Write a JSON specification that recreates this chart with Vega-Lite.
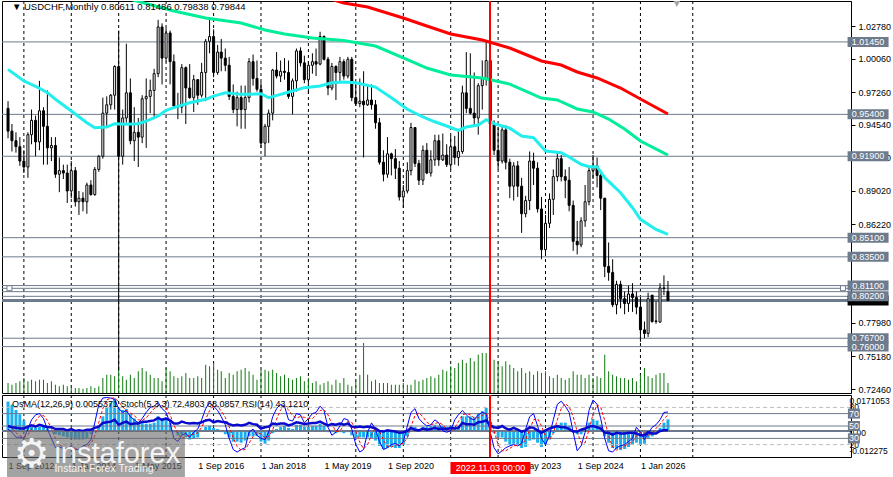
{
  "$schema": "https://vega.github.io/schema/vega-lite/v6.json",
  "padding": 0,
  "spacing": 2,
  "bounds": "flush",
  "background": "#ffffff",
  "config": {
    "font": "Liberation Sans",
    "view": {"stroke": "#000000", "strokeWidth": 1},
    "axis": {"grid": false}
  },
  "datasets": {
    "bars": [
      {"d":"2012-09-01","o":0.959,"h":0.965,"l":0.934,"c":0.94,"v":100,"os":0.014,"k":45,"s":50,"r":50},
      {"d":"2012-10-01","o":0.94,"h":0.946,"l":0.923,"c":0.932,"v":83,"os":0.0125,"k":40,"s":47,"r":48},
      {"d":"2012-11-01","o":0.932,"h":0.939,"l":0.922,"c":0.927,"v":100,"os":0.01,"k":32,"s":39,"r":47},
      {"d":"2012-12-01","o":0.927,"h":0.935,"l":0.911,"c":0.915,"v":117,"os":0.008,"k":32,"s":35,"r":46},
      {"d":"2013-01-01","o":0.915,"h":0.924,"l":0.905,"c":0.91,"v":150,"os":0.005,"k":30,"s":31,"r":46},
      {"d":"2013-02-01","o":0.91,"h":0.939,"l":0.901,"c":0.937,"v":117,"os":0.0025,"k":45,"s":36,"r":49},
      {"d":"2013-03-01","o":0.937,"h":0.958,"l":0.929,"c":0.949,"v":133,"os":0.002,"k":60,"s":45,"r":51},
      {"d":"2013-04-01","o":0.949,"h":0.953,"l":0.919,"c":0.931,"v":117,"os":0.0015,"k":68,"s":58,"r":49},
      {"d":"2013-05-01","o":0.931,"h":0.982,"l":0.924,"c":0.957,"v":133,"os":0.002,"k":70,"s":66,"r":52},
      {"d":"2013-06-01","o":0.957,"h":0.96,"l":0.912,"c":0.944,"v":133,"os":0.002,"k":62,"s":67,"r":50},
      {"d":"2013-07-01","o":0.944,"h":0.974,"l":0.912,"c":0.926,"v":100,"os":0.001,"k":45,"s":59,"r":48},
      {"d":"2013-08-01","o":0.926,"h":0.935,"l":0.915,"c":0.928,"v":117,"os":0.0005,"k":30,"s":46,"r":48},
      {"d":"2013-09-01","o":0.928,"h":0.935,"l":0.901,"c":0.904,"v":83,"os":-0.0015,"k":15,"s":30,"r":45},
      {"d":"2013-10-01","o":0.904,"h":0.918,"l":0.889,"c":0.907,"v":67,"os":-0.002,"k":16,"s":20,"r":45},
      {"d":"2013-11-01","o":0.907,"h":0.912,"l":0.9,"c":0.905,"v":83,"os":-0.0025,"k":14,"s":15,"r":45},
      {"d":"2013-12-01","o":0.905,"h":0.912,"l":0.88,"c":0.89,"v":67,"os":-0.003,"k":12,"s":14,"r":43},
      {"d":"2014-01-01","o":0.89,"h":0.915,"l":0.884,"c":0.907,"v":67,"os":-0.003,"k":18,"s":15,"r":45},
      {"d":"2014-02-01","o":0.907,"h":0.91,"l":0.877,"c":0.881,"v":50,"os":-0.004,"k":12,"s":14,"r":42},
      {"d":"2014-03-01","o":0.881,"h":0.89,"l":0.87,"c":0.884,"v":50,"os":-0.004,"k":12,"s":14,"r":43},
      {"d":"2014-04-01","o":0.884,"h":0.889,"l":0.873,"c":0.881,"v":43,"os":-0.004,"k":18,"s":14,"r":42},
      {"d":"2014-05-01","o":0.881,"h":0.897,"l":0.871,"c":0.895,"v":50,"os":-0.0035,"k":20,"s":17,"r":44},
      {"d":"2014-06-01","o":0.895,"h":0.899,"l":0.886,"c":0.887,"v":67,"os":-0.0015,"k":28,"s":22,"r":44},
      {"d":"2014-07-01","o":0.887,"h":0.91,"l":0.886,"c":0.908,"v":50,"os":0.0005,"k":55,"s":34,"r":47},
      {"d":"2014-08-01","o":0.908,"h":0.92,"l":0.906,"c":0.919,"v":67,"os":0.0025,"k":85,"s":56,"r":49},
      {"d":"2014-09-01","o":0.919,"h":0.968,"l":0.917,"c":0.955,"v":150,"os":0.007,"k":95,"s":78,"r":55},
      {"d":"2014-10-01","o":0.955,"h":0.969,"l":0.944,"c":0.962,"v":183,"os":0.011,"k":96,"s":92,"r":56},
      {"d":"2014-11-01","o":0.962,"h":0.971,"l":0.958,"c":0.97,"v":183,"os":0.0135,"k":95,"s":95,"r":57},
      {"d":"2014-12-01","o":0.97,"h":0.995,"l":0.958,"c":0.994,"v":167,"os":0.0155,"k":93,"s":95,"r":60},
      {"d":"2015-01-01","o":0.994,"h":1.024,"l":0.74,"c":0.919,"v":233,"os":0.011,"k":78,"s":89,"r":52},
      {"d":"2015-02-01","o":0.919,"h":0.958,"l":0.912,"c":0.951,"v":167,"os":0.01,"k":72,"s":81,"r":55},
      {"d":"2015-03-01","o":0.951,"h":1.013,"l":0.947,"c":0.972,"v":133,"os":0.0105,"k":75,"s":75,"r":57},
      {"d":"2015-04-01","o":0.972,"h":0.984,"l":0.929,"c":0.932,"v":183,"os":0.008,"k":65,"s":71,"r":53},
      {"d":"2015-05-01","o":0.932,"h":0.96,"l":0.915,"c":0.939,"v":150,"os":0.006,"k":60,"s":67,"r":54},
      {"d":"2015-06-01","o":0.939,"h":0.951,"l":0.91,"c":0.935,"v":217,"os":0.0045,"k":55,"s":60,"r":54},
      {"d":"2015-07-01","o":0.935,"h":0.97,"l":0.93,"c":0.967,"v":250,"os":0.004,"k":62,"s":59,"r":57},
      {"d":"2015-08-01","o":0.967,"h":0.984,"l":0.926,"c":0.969,"v":217,"os":0.0035,"k":72,"s":63,"r":57},
      {"d":"2015-09-01","o":0.969,"h":0.983,"l":0.955,"c":0.974,"v":183,"os":0.0035,"k":80,"s":71,"r":58},
      {"d":"2015-10-01","o":0.974,"h":0.992,"l":0.95,"c":0.988,"v":150,"os":0.004,"k":82,"s":78,"r":59},
      {"d":"2015-11-01","o":0.988,"h":1.033,"l":0.985,"c":1.027,"v":150,"os":0.007,"k":88,"s":83,"r":63},
      {"d":"2015-12-01","o":1.027,"h":1.03,"l":0.979,"c":1.001,"v":117,"os":0.006,"k":78,"s":83,"r":60},
      {"d":"2016-01-01","o":1.001,"h":1.026,"l":0.998,"c":1.022,"v":250,"os":0.0065,"k":72,"s":79,"r":62},
      {"d":"2016-02-01","o":1.022,"h":1.024,"l":0.979,"c":0.998,"v":217,"os":0.004,"k":55,"s":68,"r":59},
      {"d":"2016-03-01","o":0.998,"h":1.004,"l":0.959,"c":0.961,"v":167,"os":-0.0005,"k":30,"s":52,"r":54},
      {"d":"2016-04-01","o":0.961,"h":0.972,"l":0.95,"c":0.96,"v":150,"os":-0.002,"k":25,"s":37,"r":54},
      {"d":"2016-05-01","o":0.96,"h":0.996,"l":0.955,"c":0.993,"v":167,"os":-0.002,"k":35,"s":30,"r":57},
      {"d":"2016-06-01","o":0.993,"h":0.994,"l":0.946,"c":0.976,"v":200,"os":-0.003,"k":38,"s":33,"r":55},
      {"d":"2016-07-01","o":0.976,"h":0.996,"l":0.967,"c":0.968,"v":150,"os":-0.004,"k":32,"s":35,"r":54},
      {"d":"2016-08-01","o":0.968,"h":0.987,"l":0.956,"c":0.983,"v":150,"os":-0.0035,"k":40,"s":37,"r":55},
      {"d":"2016-09-01","o":0.983,"h":0.983,"l":0.962,"c":0.97,"v":167,"os":-0.003,"k":45,"s":39,"r":54},
      {"d":"2016-10-01","o":0.97,"h":0.997,"l":0.968,"c":0.989,"v":150,"os":0.0005,"k":60,"s":48,"r":56},
      {"d":"2016-11-01","o":0.989,"h":1.017,"l":0.965,"c":1.015,"v":283,"os":0.002,"k":78,"s":61,"r":59},
      {"d":"2016-12-01","o":1.015,"h":1.034,"l":1.005,"c":1.019,"v":267,"os":0.0025,"k":88,"s":75,"r":60},
      {"d":"2017-01-01","o":1.019,"h":1.025,"l":0.985,"c":0.989,"v":300,"os":0.0015,"k":82,"s":83,"r":56},
      {"d":"2017-02-01","o":0.989,"h":1.012,"l":0.987,"c":1.006,"v":233,"os":0.001,"k":75,"s":82,"r":58},
      {"d":"2017-03-01","o":1.006,"h":1.017,"l":0.99,"c":1.001,"v":217,"os":-0.0005,"k":65,"s":74,"r":57},
      {"d":"2017-04-01","o":1.001,"h":1.009,"l":0.99,"c":0.995,"v":150,"os":-0.0015,"k":52,"s":64,"r":56},
      {"d":"2017-05-01","o":0.995,"h":1.002,"l":0.966,"c":0.969,"v":200,"os":-0.003,"k":30,"s":49,"r":53},
      {"d":"2017-06-01","o":0.969,"h":0.979,"l":0.955,"c":0.958,"v":183,"os":-0.005,"k":12,"s":31,"r":51},
      {"d":"2017-07-01","o":0.958,"h":0.973,"l":0.944,"c":0.968,"v":217,"os":-0.005,"k":8,"s":17,"r":52},
      {"d":"2017-08-01","o":0.968,"h":0.978,"l":0.942,"c":0.958,"v":233,"os":-0.0055,"k":12,"s":11,"r":51},
      {"d":"2017-09-01","o":0.958,"h":0.978,"l":0.942,"c":0.968,"v":250,"os":-0.0045,"k":15,"s":12,"r":52},
      {"d":"2017-10-01","o":0.968,"h":1.001,"l":0.964,"c":0.998,"v":217,"os":-0.0025,"k":40,"s":22,"r":55},
      {"d":"2017-11-01","o":0.998,"h":1.004,"l":0.978,"c":0.984,"v":183,"os":-0.0025,"k":45,"s":33,"r":53},
      {"d":"2017-12-01","o":0.984,"h":0.999,"l":0.973,"c":0.975,"v":133,"os":-0.0025,"k":35,"s":40,"r":52},
      {"d":"2018-01-01","o":0.975,"h":0.981,"l":0.926,"c":0.93,"v":233,"os":-0.005,"k":30,"s":37,"r":46},
      {"d":"2018-02-01","o":0.93,"h":0.946,"l":0.919,"c":0.944,"v":233,"os":-0.006,"k":28,"s":31,"r":48},
      {"d":"2018-03-01","o":0.944,"h":0.958,"l":0.93,"c":0.955,"v":217,"os":-0.0045,"k":40,"s":33,"r":49},
      {"d":"2018-04-01","o":0.955,"h":0.992,"l":0.949,"c":0.991,"v":233,"os":-0.001,"k":65,"s":44,"r":54},
      {"d":"2018-05-01","o":0.991,"h":1.006,"l":0.984,"c":0.986,"v":200,"os":0.001,"k":78,"s":61,"r":53},
      {"d":"2018-06-01","o":0.986,"h":0.999,"l":0.981,"c":0.99,"v":167,"os":0.002,"k":85,"s":76,"r":54},
      {"d":"2018-07-01","o":0.99,"h":1.001,"l":0.983,"c":0.989,"v":183,"os":0.0025,"k":82,"s":82,"r":54},
      {"d":"2018-08-01","o":0.989,"h":0.999,"l":0.967,"c":0.969,"v":150,"os":0.0015,"k":60,"s":76,"r":51},
      {"d":"2018-09-01","o":0.969,"h":0.984,"l":0.954,"c":0.982,"v":133,"os":0.001,"k":58,"s":67,"r":53},
      {"d":"2018-10-01","o":0.982,"h":1.009,"l":0.973,"c":1.007,"v":150,"os":0.003,"k":70,"s":63,"r":56},
      {"d":"2018-11-01","o":1.007,"h":1.01,"l":0.994,"c":0.997,"v":167,"os":0.003,"k":68,"s":65,"r":55},
      {"d":"2018-12-01","o":0.997,"h":1.003,"l":0.98,"c":0.983,"v":117,"os":0.002,"k":55,"s":64,"r":53},
      {"d":"2019-01-01","o":0.983,"h":0.998,"l":0.971,"c":0.995,"v":150,"os":0.002,"k":62,"s":62,"r":54},
      {"d":"2019-02-01","o":0.995,"h":1.005,"l":0.988,"c":0.998,"v":100,"os":0.0025,"k":70,"s":62,"r":55},
      {"d":"2019-03-01","o":0.998,"h":1.009,"l":0.986,"c":0.996,"v":117,"os":0.0025,"k":72,"s":68,"r":55},
      {"d":"2019-04-01","o":0.996,"h":1.023,"l":0.995,"c":1.019,"v":83,"os":0.0035,"k":82,"s":75,"r":57},
      {"d":"2019-05-01","o":1.019,"h":1.02,"l":0.999,"c":1.0,"v":100,"os":0.0025,"k":75,"s":76,"r":54},
      {"d":"2019-06-01","o":1.0,"h":1.002,"l":0.97,"c":0.976,"v":117,"os":-0.0005,"k":48,"s":68,"r":51},
      {"d":"2019-07-01","o":0.976,"h":0.997,"l":0.974,"c":0.994,"v":83,"os":-0.0005,"k":35,"s":53,"r":53},
      {"d":"2019-08-01","o":0.994,"h":0.995,"l":0.966,"c":0.989,"v":133,"os":-0.001,"k":40,"s":41,"r":52},
      {"d":"2019-09-01","o":0.989,"h":1.002,"l":0.982,"c":0.998,"v":100,"os":-0.0005,"k":50,"s":42,"r":54},
      {"d":"2019-10-01","o":0.998,"h":1.0,"l":0.983,"c":0.986,"v":150,"os":-0.001,"k":62,"s":51,"r":52},
      {"d":"2019-11-01","o":0.986,"h":1.002,"l":0.984,"c":1.0,"v":83,"os":-0.0005,"k":60,"s":57,"r":54},
      {"d":"2019-12-01","o":1.0,"h":1.002,"l":0.965,"c":0.968,"v":67,"os":-0.002,"k":45,"s":56,"r":49},
      {"d":"2020-01-01","o":0.968,"h":0.98,"l":0.961,"c":0.963,"v":133,"os":-0.003,"k":20,"s":42,"r":48},
      {"d":"2020-02-01","o":0.963,"h":0.984,"l":0.96,"c":0.965,"v":183,"os":-0.003,"k":8,"s":24,"r":49},
      {"d":"2020-03-01","o":0.965,"h":0.99,"l":0.918,"c":0.962,"v":500,"os":-0.003,"k":12,"s":13,"r":48},
      {"d":"2020-04-01","o":0.962,"h":0.979,"l":0.961,"c":0.966,"v":183,"os":-0.003,"k":40,"s":20,"r":49},
      {"d":"2020-05-01","o":0.966,"h":0.979,"l":0.958,"c":0.962,"v":117,"os":-0.0035,"k":55,"s":36,"r":48},
      {"d":"2020-06-01","o":0.962,"h":0.966,"l":0.942,"c":0.947,"v":133,"os":-0.0045,"k":45,"s":47,"r":46},
      {"d":"2020-07-01","o":0.947,"h":0.951,"l":0.912,"c":0.914,"v":100,"os":-0.007,"k":25,"s":42,"r":42},
      {"d":"2020-08-01","o":0.914,"h":0.924,"l":0.898,"c":0.904,"v":100,"os":-0.0085,"k":12,"s":27,"r":41},
      {"d":"2020-09-01","o":0.904,"h":0.935,"l":0.901,"c":0.921,"v":100,"os":-0.008,"k":15,"s":17,"r":43},
      {"d":"2020-10-01","o":0.921,"h":0.922,"l":0.903,"c":0.917,"v":83,"os":-0.0075,"k":20,"s":16,"r":42},
      {"d":"2020-11-01","o":0.917,"h":0.925,"l":0.9,"c":0.909,"v":83,"os":-0.008,"k":22,"s":19,"r":41},
      {"d":"2020-12-01","o":0.909,"h":0.915,"l":0.882,"c":0.885,"v":83,"os":-0.008,"k":18,"s":20,"r":39},
      {"d":"2021-01-01","o":0.885,"h":0.895,"l":0.876,"c":0.89,"v":100,"os":-0.0065,"k":25,"s":22,"r":40},
      {"d":"2021-02-01","o":0.89,"h":0.914,"l":0.888,"c":0.907,"v":83,"os":-0.0025,"k":50,"s":31,"r":42},
      {"d":"2021-03-01","o":0.907,"h":0.947,"l":0.903,"c":0.943,"v":83,"os":0.002,"k":72,"s":49,"r":47},
      {"d":"2021-04-01","o":0.943,"h":0.943,"l":0.91,"c":0.913,"v":133,"os":0.002,"k":78,"s":67,"r":44},
      {"d":"2021-05-01","o":0.913,"h":0.916,"l":0.895,"c":0.899,"v":117,"os":0.001,"k":62,"s":71,"r":43},
      {"d":"2021-06-01","o":0.899,"h":0.928,"l":0.895,"c":0.924,"v":133,"os":0.002,"k":55,"s":65,"r":46},
      {"d":"2021-07-01","o":0.924,"h":0.93,"l":0.904,"c":0.905,"v":150,"os":0.002,"k":50,"s":56,"r":44},
      {"d":"2021-08-01","o":0.905,"h":0.924,"l":0.902,"c":0.916,"v":167,"os":0.0025,"k":52,"s":52,"r":45},
      {"d":"2021-09-01","o":0.916,"h":0.937,"l":0.911,"c":0.932,"v":150,"os":0.003,"k":60,"s":54,"r":47},
      {"d":"2021-10-01","o":0.932,"h":0.937,"l":0.911,"c":0.916,"v":183,"os":0.0025,"k":55,"s":56,"r":45},
      {"d":"2021-11-01","o":0.916,"h":0.938,"l":0.915,"c":0.92,"v":233,"os":0.0025,"k":42,"s":52,"r":46},
      {"d":"2021-12-01","o":0.92,"h":0.929,"l":0.91,"c":0.912,"v":217,"os":0.002,"k":40,"s":46,"r":45},
      {"d":"2022-01-01","o":0.912,"h":0.936,"l":0.908,"c":0.927,"v":267,"os":0.0025,"k":42,"s":41,"r":47},
      {"d":"2022-02-01","o":0.927,"h":0.936,"l":0.912,"c":0.918,"v":250,"os":0.002,"k":60,"s":47,"r":46},
      {"d":"2022-03-01","o":0.918,"h":0.94,"l":0.911,"c":0.923,"v":300,"os":0.0025,"k":68,"s":57,"r":47},
      {"d":"2022-04-01","o":0.923,"h":0.978,"l":0.921,"c":0.972,"v":333,"os":0.007,"k":75,"s":68,"r":55},
      {"d":"2022-05-01","o":0.972,"h":1.006,"l":0.955,"c":0.959,"v":300,"os":0.007,"k":68,"s":70,"r":53},
      {"d":"2022-06-01","o":0.959,"h":1.005,"l":0.954,"c":0.955,"v":350,"os":0.007,"k":62,"s":68,"r":53},
      {"d":"2022-07-01","o":0.955,"h":0.989,"l":0.945,"c":0.951,"v":317,"os":0.0065,"k":60,"s":63,"r":52},
      {"d":"2022-08-01","o":0.951,"h":0.98,"l":0.937,"c":0.978,"v":383,"os":0.0085,"k":68,"s":63,"r":56},
      {"d":"2022-09-01","o":0.978,"h":0.999,"l":0.958,"c":0.984,"v":400,"os":0.0095,"k":72,"s":67,"r":57},
      {"d":"2022-10-01","o":0.984,"h":1.0148,"l":0.978,"c":0.999,"v":400,"os":0.011,"k":70,"s":70,"r":59},
      {"d":"2022-11-01","o":0.999,"h":1.003,"l":0.936,"c":0.946,"v":400,"os":0.004,"k":40,"s":61,"r":51},
      {"d":"2022-12-01","o":0.946,"h":0.949,"l":0.92,"c":0.924,"v":333,"os":-0.001,"k":15,"s":42,"r":48},
      {"d":"2023-01-01","o":0.924,"h":0.943,"l":0.908,"c":0.915,"v":317,"os":-0.003,"k":5,"s":20,"r":47},
      {"d":"2023-02-01","o":0.915,"h":0.944,"l":0.913,"c":0.941,"v":267,"os":-0.003,"k":10,"s":10,"r":50},
      {"d":"2023-03-01","o":0.941,"h":0.945,"l":0.908,"c":0.914,"v":317,"os":-0.005,"k":15,"s":10,"r":46},
      {"d":"2023-04-01","o":0.914,"h":0.917,"l":0.884,"c":0.894,"v":283,"os":-0.0065,"k":18,"s":14,"r":44},
      {"d":"2023-05-01","o":0.894,"h":0.914,"l":0.882,"c":0.911,"v":250,"os":-0.006,"k":20,"s":18,"r":47},
      {"d":"2023-06-01","o":0.911,"h":0.915,"l":0.885,"c":0.894,"v":217,"os":-0.0065,"k":18,"s":19,"r":44},
      {"d":"2023-07-01","o":0.894,"h":0.901,"l":0.855,"c":0.871,"v":250,"os":-0.008,"k":22,"s":20,"r":41},
      {"d":"2023-08-01","o":0.871,"h":0.886,"l":0.868,"c":0.882,"v":200,"os":-0.0075,"k":45,"s":28,"r":43},
      {"d":"2023-09-01","o":0.882,"h":0.923,"l":0.874,"c":0.915,"v":217,"os":-0.0045,"k":65,"s":44,"r":48},
      {"d":"2023-10-01","o":0.915,"h":0.922,"l":0.895,"c":0.909,"v":183,"os":-0.004,"k":70,"s":60,"r":47},
      {"d":"2023-11-01","o":0.909,"h":0.914,"l":0.872,"c":0.875,"v":217,"os":-0.0055,"k":50,"s":62,"r":43},
      {"d":"2023-12-01","o":0.875,"h":0.885,"l":0.833,"c":0.841,"v":200,"os":-0.0075,"k":30,"s":50,"r":39},
      {"d":"2024-01-01","o":0.841,"h":0.87,"l":0.837,"c":0.863,"v":217,"os":-0.0065,"k":20,"s":33,"r":43},
      {"d":"2024-02-01","o":0.863,"h":0.888,"l":0.859,"c":0.883,"v":167,"os":-0.004,"k":35,"s":28,"r":46},
      {"d":"2024-03-01","o":0.883,"h":0.908,"l":0.87,"c":0.902,"v":150,"os":-0.001,"k":60,"s":38,"r":48},
      {"d":"2024-04-01","o":0.902,"h":0.923,"l":0.898,"c":0.917,"v":183,"os":0.0025,"k":85,"s":60,"r":50},
      {"d":"2024-05-01","o":0.917,"h":0.92,"l":0.898,"c":0.902,"v":150,"os":0.004,"k":90,"s":78,"r":48},
      {"d":"2024-06-01","o":0.902,"h":0.908,"l":0.884,"c":0.899,"v":133,"os":0.004,"k":82,"s":86,"r":48},
      {"d":"2024-07-01","o":0.899,"h":0.91,"l":0.873,"c":0.878,"v":150,"os":0.0025,"k":72,"s":81,"r":45},
      {"d":"2024-08-01","o":0.878,"h":0.882,"l":0.84,"c":0.848,"v":217,"os":0.0005,"k":40,"s":65,"r":41},
      {"d":"2024-09-01","o":0.848,"h":0.865,"l":0.837,"c":0.845,"v":183,"os":-0.0015,"k":10,"s":41,"r":41},
      {"d":"2024-10-01","o":0.845,"h":0.868,"l":0.843,"c":0.865,"v":183,"os":-0.0015,"k":18,"s":23,"r":44},
      {"d":"2024-11-01","o":0.865,"h":0.895,"l":0.86,"c":0.881,"v":150,"os":0.001,"k":40,"s":23,"r":46},
      {"d":"2024-12-01","o":0.881,"h":0.91,"l":0.878,"c":0.907,"v":183,"os":0.004,"k":75,"s":44,"r":49},
      {"d":"2025-01-01","o":0.907,"h":0.92,"l":0.9,"c":0.911,"v":150,"os":0.0055,"k":92,"s":69,"r":50},
      {"d":"2025-02-01","o":0.911,"h":0.918,"l":0.893,"c":0.903,"v":167,"os":0.005,"k":85,"s":84,"r":48},
      {"d":"2025-03-01","o":0.903,"h":0.906,"l":0.874,"c":0.884,"v":150,"os":0.003,"k":62,"s":80,"r":46},
      {"d":"2025-04-01","o":0.884,"h":0.884,"l":0.818,"c":0.827,"v":383,"os":-0.0025,"k":30,"s":59,"r":39},
      {"d":"2025-05-01","o":0.827,"h":0.847,"l":0.815,"c":0.822,"v":217,"os":-0.0055,"k":10,"s":34,"r":39},
      {"d":"2025-06-01","o":0.822,"h":0.833,"l":0.793,"c":0.795,"v":183,"os":-0.008,"k":8,"s":16,"r":36},
      {"d":"2025-07-01","o":0.795,"h":0.815,"l":0.787,"c":0.812,"v":167,"os":-0.0085,"k":15,"s":11,"r":39},
      {"d":"2025-08-01","o":0.812,"h":0.815,"l":0.792,"c":0.8,"v":150,"os":-0.009,"k":18,"s":14,"r":38},
      {"d":"2025-09-01","o":0.8,"h":0.806,"l":0.787,"c":0.796,"v":150,"os":-0.0085,"k":20,"s":18,"r":38},
      {"d":"2025-10-01","o":0.796,"h":0.811,"l":0.789,"c":0.804,"v":133,"os":-0.0075,"k":25,"s":21,"r":39},
      {"d":"2025-11-01","o":0.804,"h":0.813,"l":0.789,"c":0.801,"v":150,"os":-0.0065,"k":30,"s":25,"r":39},
      {"d":"2025-12-01","o":0.801,"h":0.806,"l":0.787,"c":0.793,"v":117,"os":-0.0055,"k":48,"s":34,"r":38},
      {"d":"2026-01-01","o":0.793,"h":0.801,"l":0.764,"c":0.774,"v":183,"os":-0.0065,"k":40,"s":39,"r":35},
      {"d":"2026-02-01","o":0.774,"h":0.781,"l":0.767,"c":0.771,"v":250,"os":-0.006,"k":28,"s":39,"r":35},
      {"d":"2026-03-01","o":0.771,"h":0.805,"l":0.768,"c":0.8,"v":167,"os":-0.0035,"k":38,"s":35,"r":40},
      {"d":"2026-04-01","o":0.803,"h":0.803,"l":0.78,"c":0.781,"v":150,"os":-0.0025,"k":48,"s":38,"r":38},
      {"d":"2026-05-01","o":0.781,"h":0.798,"l":0.779,"c":0.7815,"v":183,"os":-0.001,"k":52,"s":46,"r":38},
      {"d":"2026-06-01","o":0.7805,"h":0.813,"l":0.78,"c":0.809,"v":200,"os":0.0015,"k":60,"s":53,"r":42},
      {"d":"2026-07-01","o":0.809,"h":0.8195,"l":0.803,"c":0.8085,"v":200,"os":0.004,"k":72,"s":61,"r":43},
      {"d":"2026-08-01","o":0.80611,"h":0.81486,"l":0.79838,"c":0.79844,"v":100,"os":0.005537,"k":72.48,"s":68.09,"r":43.12}
    ],
    "ma": [
      {"d":"2012-09-01","s":"c","v":0.9916},{"d":"2013-01-01","s":"c","v":0.9819},{"d":"2013-05-01","s":"c","v":0.9758},
      {"d":"2013-07-01","s":"c","v":0.9721},{"d":"2013-09-01","s":"c","v":0.9666},{"d":"2014-01-01","s":"c","v":0.9568},
      {"d":"2014-05-01","s":"c","v":0.947},{"d":"2014-07-01","s":"c","v":0.9428},{"d":"2014-10-01","s":"c","v":0.9434},
      {"d":"2014-12-01","s":"c","v":0.9462},{"d":"2015-03-01","s":"c","v":0.9457},{"d":"2015-06-01","s":"c","v":0.9462},
      {"d":"2015-08-01","s":"c","v":0.9484},{"d":"2015-11-01","s":"c","v":0.9526},{"d":"2016-01-01","s":"c","v":0.9574},
      {"d":"2016-03-01","s":"c","v":0.9596},{"d":"2016-07-01","s":"c","v":0.9637},{"d":"2016-11-01","s":"c","v":0.9666},
      {"d":"2017-01-01","s":"c","v":0.9693},{"d":"2017-04-01","s":"c","v":0.9721},{"d":"2017-08-01","s":"c","v":0.9707},
      {"d":"2017-10-01","s":"c","v":0.9707},{"d":"2018-01-01","s":"c","v":0.9712},{"d":"2018-03-01","s":"c","v":0.9679},
      {"d":"2018-06-01","s":"c","v":0.9707},{"d":"2018-09-01","s":"c","v":0.9735},{"d":"2018-12-01","s":"c","v":0.9763},
      {"d":"2019-04-01","s":"c","v":0.9777},{"d":"2019-07-01","s":"c","v":0.9804},{"d":"2019-10-01","s":"c","v":0.981},
      {"d":"2020-01-01","s":"c","v":0.9804},{"d":"2020-06-01","s":"c","v":0.9768},{"d":"2020-10-01","s":"c","v":0.9679},
      {"d":"2021-02-01","s":"c","v":0.9582},{"d":"2021-06-01","s":"c","v":0.9518},{"d":"2021-09-01","s":"c","v":0.9478},
      {"d":"2021-12-01","s":"c","v":0.9443},{"d":"2022-03-01","s":"c","v":0.9407},{"d":"2022-05-01","s":"c","v":0.9434},
      {"d":"2022-08-01","s":"c","v":0.9451},{"d":"2022-10-01","s":"c","v":0.9495},{"d":"2022-12-01","s":"c","v":0.9462},
      {"d":"2023-03-01","s":"c","v":0.9434},{"d":"2023-04-01","s":"c","v":0.9425},{"d":"2023-07-01","s":"c","v":0.9359},
      {"d":"2023-10-01","s":"c","v":0.9345},{"d":"2024-01-01","s":"c","v":0.9234},{"d":"2024-05-01","s":"c","v":0.922},
      {"d":"2024-07-01","s":"c","v":0.9184},{"d":"2024-10-01","s":"c","v":0.9123},{"d":"2024-12-01","s":"c","v":0.9103},
      {"d":"2025-02-01","s":"c","v":0.9103},{"d":"2025-04-01","s":"c","v":0.9011},{"d":"2025-08-01","s":"c","v":0.8885},
      {"d":"2025-11-01","s":"c","v":0.876},{"d":"2026-01-01","s":"c","v":0.8663},{"d":"2026-05-01","s":"c","v":0.8579},
      {"d":"2026-08-01","s":"c","v":0.8538},
      {"d":"2015-03-01","s":"g","v":1.051},{"d":"2016-03-01","s":"g","v":1.0403},{"d":"2016-11-01","s":"g","v":1.0345},
      {"d":"2017-08-01","s":"g","v":1.0303},{"d":"2018-02-01","s":"g","v":1.0245},{"d":"2018-07-01","s":"g","v":1.0211},
      {"d":"2019-02-01","s":"g","v":1.0178},{"d":"2019-10-01","s":"g","v":1.0157},{"d":"2020-06-01","s":"g","v":1.0111},
      {"d":"2021-01-01","s":"g","v":1.0011},{"d":"2021-07-01","s":"g","v":0.9927},{"d":"2022-01-01","s":"g","v":0.9869},
      {"d":"2022-09-01","s":"g","v":0.9844},{"d":"2023-04-01","s":"g","v":0.9793},{"d":"2023-12-01","s":"g","v":0.9676},
      {"d":"2024-04-01","s":"g","v":0.966},{"d":"2024-09-01","s":"g","v":0.9585},{"d":"2025-01-01","s":"g","v":0.956},
      {"d":"2025-05-01","s":"g","v":0.9501},{"d":"2025-09-01","s":"g","v":0.9418},{"d":"2026-01-01","s":"g","v":0.9317},
      {"d":"2026-08-01","s":"g","v":0.92},
      {"d":"2019-05-01","s":"r","v":1.052},{"d":"2019-10-01","s":"r","v":1.047},{"d":"2020-04-01","s":"r","v":1.0437},
      {"d":"2021-01-01","s":"r","v":1.0345},{"d":"2021-07-01","s":"r","v":1.0278},{"d":"2022-01-01","s":"r","v":1.0211},
      {"d":"2022-09-01","s":"r","v":1.0161},{"d":"2023-04-01","s":"r","v":1.0094},{"d":"2023-12-01","s":"r","v":0.9986},
      {"d":"2024-05-01","s":"r","v":0.9952},{"d":"2024-09-01","s":"r","v":0.9894},{"d":"2025-02-01","s":"r","v":0.9844},
      {"d":"2025-08-01","s":"r","v":0.976},{"d":"2026-01-01","s":"r","v":0.9668},{"d":"2026-08-01","s":"r","v":0.9543}
    ],
    "jan": [
      {"d":"2013-01-01"},{"d":"2014-01-01"},{"d":"2015-01-01"},{"d":"2016-01-01"},{"d":"2017-01-01"},
      {"d":"2018-01-01"},{"d":"2019-01-01"},{"d":"2020-01-01"},{"d":"2021-01-01"},{"d":"2022-01-01"},
      {"d":"2023-01-01"},{"d":"2024-01-01"},{"d":"2025-01-01"},{"d":"2026-01-01"},{"d":"2027-02-08"}
    ],
    "lv": [
      {"p":1.0145},{"p":0.954},{"p":0.919},{"p":0.851},{"p":0.835},{"p":0.811},
      {"p":0.8087},{"p":0.8059},{"p":0.802},{"p":0.767},{"p":0.76}
    ],
    "bx": [
      {"p":1.0145,"t":"1.01450"},{"p":0.954,"t":"0.95400"},{"p":0.919,"t":"0.91900"},
      {"p":0.851,"t":"0.85100"},{"p":0.835,"t":"0.83500"},{"p":0.811,"t":"0.81100"},
      {"p":0.802,"t":"0.80200"},{"p":0.767,"t":"0.76700"},{"p":0.76,"t":"0.76000"}
    ],
    "ilv": [{"v":70},{"v":50},{"v":30}],
    "idl": [{"v":80},{"v":20}],
    "itx": [
      {"v":90.3,"t":"0.0171053"},{"v":80,"t":"80"},{"v":38.7,"t":"0.00"},{"v":20,"t":"20"},{"v":9.7,"t":"-0.012275"}
    ]
  },
  "vconcat": [
    {
      "width": 849,
      "height": 392,
      "layer": [
        {
          "layer": [
            {
              "data": {"name": "jan"},
              "mark": {"type": "rule", "color": "#000000", "strokeWidth": 1, "strokeDash": [3, 3]},
              "encoding": {
                "x": {"field": "d", "type": "temporal", "scale": {"domain": [{"year":2012,"month":8,"date":24},{"year":2030,"month":5,"date":3}], "nice": false}, "axis": null}
              }
            },
            {
              "data": {"name": "bars"},
              "mark": {"type": "bar", "width": 1, "color": "#0E7A0E"},
              "encoding": {
                "x": {"field": "d", "type": "temporal", "scale": {"domain": [{"year":2012,"month":8,"date":24},{"year":2030,"month":5,"date":3}], "nice": false}, "axis": null},
                "y": {"field": "v", "type": "quantitative", "scale": {"domain": [0, 3920], "nice": false, "zero": true}, "axis": null}
              }
            }
          ]
        },
        {
          "layer": [
            {
              "data": {"name": "lv"},
              "mark": {"type": "rule", "color": "#6D7B8D", "strokeWidth": 1},
              "encoding": {
                "y": {"field": "p", "type": "quantitative", "scale": {"domain": [0.72126, 1.04869], "zero": false, "nice": false},
                  "axis": {"orient": "right", "values": [1.0278, 1.0006, 0.9726, 0.9454, 0.9182, 0.8902, 0.8622, 0.7798, 0.7518, 0.7246],
                    "format": ".5f", "title": null, "grid": false, "tickSize": 4, "tickColor": "#000000", "domainColor": "#000000",
                    "labelColor": "#000000", "labelFontSize": 9, "labelPadding": 3, "labelFlush": false, "labelOverlap": false, "labelBound": false}}
              }
            },
            {
              "data": {"name": "bars"},
              "mark": {"type": "rule", "color": "#6D7B8D", "strokeWidth": 2},
              "encoding": {
                "y": {"datum": 0.7988, "type": "quantitative", "scale": {"domain": [0.72126, 1.04869], "zero": false, "nice": false}}
              }
            },
            {
              "data": {"name": "bars"},
              "mark": {"type": "rule", "color": "#000000", "strokeWidth": 1},
              "encoding": {
                "x": {"field": "d", "type": "temporal", "scale": {"domain": [{"year":2012,"month":8,"date":24},{"year":2030,"month":5,"date":3}], "nice": false}, "axis": null},
                "y": {"field": "l", "type": "quantitative", "scale": {"domain": [0.72126, 1.04869], "zero": false, "nice": false}},
                "y2": {"field": "h"}
              }
            },
            {
              "data": {"name": "bars"},
              "mark": {"type": "bar", "width": 2, "strokeWidth": 1},
              "encoding": {
                "x": {"field": "d", "type": "temporal", "scale": {"domain": [{"year":2012,"month":8,"date":24},{"year":2030,"month":5,"date":3}], "nice": false}, "axis": null},
                "y": {"field": "o", "type": "quantitative", "scale": {"domain": [0.72126, 1.04869], "zero": false, "nice": false}},
                "y2": {"field": "c"},
                "fill": {"condition": {"test": "datum.c >= datum.o", "value": "#ffffff"}, "value": "#000000"},
                "stroke": {"value": "#000000"}
              }
            },
            {
              "data": {"name": "ma"},
              "mark": {"type": "line", "strokeWidth": 3, "clip": true},
              "encoding": {
                "x": {"field": "d", "type": "temporal", "scale": {"domain": [{"year":2012,"month":8,"date":24},{"year":2030,"month":5,"date":3}], "nice": false}, "axis": null},
                "y": {"field": "v", "type": "quantitative", "scale": {"domain": [0.72126, 1.04869], "zero": false, "nice": false}},
                "color": {"field": "s", "type": "nominal", "scale": {"domain": ["c", "g", "r"], "range": ["#22EEEE", "#00EE99", "#FF0000"]}, "legend": null}
              }
            },
            {
              "data": {"name": "bars"},
              "mark": {"type": "rule", "color": "#FF0000", "strokeWidth": 1},
              "encoding": {
                "x": {"datum": {"year":2022,"month":11,"date":3}, "type": "temporal", "scale": {"domain": [{"year":2012,"month":8,"date":24},{"year":2030,"month":5,"date":3}], "nice": false}, "axis": null}
              }
            },
            {
              "data": {"values": [{"x": "2012-09-12"}, {"x": "2030-04-10"}]},
              "mark": {"type": "point", "shape": "square", "size": 25, "filled": true, "fill": "#ffffff", "stroke": "#6D7B8D", "strokeWidth": 1, "opacity": 1},
              "encoding": {
                "x": {"field": "x", "type": "temporal", "scale": {"domain": [{"year":2012,"month":8,"date":24},{"year":2030,"month":5,"date":3}], "nice": false}, "axis": null},
                "y": {"datum": 0.8088, "type": "quantitative", "scale": {"domain": [0.72126, 1.04869], "zero": false, "nice": false}}
              }
            },
            {
              "data": {"values": [{"p": 0.79844, "t": "0.79844"}]},
              "mark": {"type": "tick", "orient": "horizontal", "size": 41, "thickness": 10, "color": "#000000", "opacity": 1},
              "encoding": {
                "x": {"datum": {"year":2030,"month":10,"date":20}, "type": "temporal", "scale": {"domain": [{"year":2012,"month":8,"date":24},{"year":2030,"month":5,"date":3}], "nice": false}, "axis": null},
                "y": {"field": "p", "type": "quantitative", "scale": {"domain": [0.72126, 1.04869], "zero": false, "nice": false}}
              }
            },
            {
              "data": {"name": "bx"},
              "mark": {"type": "tick", "orient": "horizontal", "size": 41, "thickness": 10, "color": "#6D7B8D", "opacity": 1},
              "encoding": {
                "x": {"datum": {"year":2030,"month":10,"date":20}, "type": "temporal", "scale": {"domain": [{"year":2012,"month":8,"date":24},{"year":2030,"month":5,"date":3}], "nice": false}, "axis": null},
                "y": {"field": "p", "type": "quantitative", "scale": {"domain": [0.72126, 1.04869], "zero": false, "nice": false}}
              }
            },
            {
              "data": {"name": "bx"},
              "mark": {"type": "text", "color": "#ffffff", "fontSize": 9, "align": "center", "baseline": "middle"},
              "encoding": {
                "x": {"datum": {"year":2030,"month":10,"date":20}, "type": "temporal", "scale": {"domain": [{"year":2012,"month":8,"date":24},{"year":2030,"month":5,"date":3}], "nice": false}, "axis": null},
                "y": {"field": "p", "type": "quantitative", "scale": {"domain": [0.72126, 1.04869], "zero": false, "nice": false}},
                "text": {"field": "t"}
              }
            },
            {
              "data": {"values": [{"t": "▼ USDCHF,Monthly  0.80611 0.81486 0.79838 0.79844"}]},
              "mark": {"type": "text", "color": "#000000", "fontSize": 9.5, "align": "left", "baseline": "middle"},
              "encoding": {
                "x": {"datum": {"year":2012,"month":10,"date":1}, "type": "temporal", "scale": {"domain": [{"year":2012,"month":8,"date":24},{"year":2030,"month":5,"date":3}], "nice": false}, "axis": null},
                "y": {"datum": 1.0437, "type": "quantitative", "scale": {"domain": [0.72126, 1.04869], "zero": false, "nice": false}},
                "text": {"field": "t"}
              }
            },
            {
              "data": {"values": [{"x": "2026-10-08"}]},
              "mark": {"type": "point", "shape": "triangle-down", "size": 45, "filled": true, "color": "#A8A8A8", "opacity": 1},
              "encoding": {
                "x": {"field": "x", "type": "temporal", "scale": {"domain": [{"year":2012,"month":8,"date":24},{"year":2030,"month":5,"date":3}], "nice": false}, "axis": null},
                "y": {"datum": 1.0462, "type": "quantitative", "scale": {"domain": [0.72126, 1.04869], "zero": false, "nice": false}}
              }
            }
          ]
        }
      ],
      "resolve": {"scale": {"y": "independent"}}
    },
    {
      "width": 849,
      "height": 62,
      "layer": [
        {
          "layer": [
            {
              "data": {"name": "jan"},
              "mark": {"type": "rule", "color": "#000000", "strokeWidth": 1, "strokeDash": [3, 3]},
              "encoding": {
                "x": {"field": "d", "type": "temporal", "scale": {"domain": [{"year":2012,"month":8,"date":24},{"year":2030,"month":5,"date":3}], "nice": false},
                  "axis": {"orient": "bottom", "values": [
                    {"year":2012,"month":9,"date":1},{"year":2014,"month":1,"date":1},{"year":2015,"month":5,"date":1},
                    {"year":2016,"month":9,"date":1},{"year":2018,"month":1,"date":1},{"year":2019,"month":5,"date":1},
                    {"year":2020,"month":9,"date":1},{"year":2022,"month":1,"date":1},{"year":2023,"month":5,"date":1},
                    {"year":2024,"month":9,"date":1},{"year":2026,"month":1,"date":1}],
                    "format": "%-d %b %Y", "labelAlign": "left", "labelBaseline": "top", "labelPadding": 4, "ticks": false, "domain": false,
                    "labelFontSize": 9, "labelColor": "#000000", "labelFlush": false, "labelOverlap": false, "labelBound": false, "title": null, "grid": false}}
              }
            },
            {
              "data": {"name": "bars"},
              "mark": {"type": "bar", "width": 3, "color": "#1AAFF0"},
              "encoding": {
                "x": {"field": "d", "type": "temporal", "scale": {"domain": [{"year":2012,"month":8,"date":24},{"year":2030,"month":5,"date":3}], "nice": false}},
                "y": {"field": "os", "type": "quantitative", "scale": {"domain": [-0.012275, 0.0171053], "zero": false, "nice": false}, "axis": null},
                "y2": {"datum": 0}
              }
            },
            {
              "data": {"name": "bars"},
              "mark": {"type": "rule", "color": "#6D7B8D", "strokeWidth": 1},
              "encoding": {
                "y": {"datum": 0, "type": "quantitative", "scale": {"domain": [-0.012275, 0.0171053], "zero": false, "nice": false}, "axis": null}
              }
            }
          ]
        },
        {
          "layer": [
            {
              "data": {"name": "idl"},
              "mark": {"type": "rule", "color": "#BDBDBD", "strokeWidth": 1, "strokeDash": [4, 3]},
              "encoding": {
                "y": {"field": "v", "type": "quantitative", "scale": {"domain": [0, 100], "zero": false, "nice": false}, "axis": null}
              }
            },
            {
              "data": {"name": "ilv"},
              "mark": {"type": "rule", "color": "#6D7B8D", "strokeWidth": 1},
              "encoding": {
                "y": {"field": "v", "type": "quantitative", "scale": {"domain": [0, 100], "zero": false, "nice": false}, "axis": null}
              }
            },
            {
              "data": {"name": "bars"},
              "mark": {"type": "line", "color": "#0000FF", "strokeWidth": 1},
              "encoding": {
                "x": {"field": "d", "type": "temporal", "scale": {"domain": [{"year":2012,"month":8,"date":24},{"year":2030,"month":5,"date":3}], "nice": false}},
                "y": {"field": "k", "type": "quantitative", "scale": {"domain": [0, 100], "zero": false, "nice": false}, "axis": null}
              }
            },
            {
              "data": {"name": "bars"},
              "mark": {"type": "line", "color": "#FF0000", "strokeWidth": 1, "strokeDash": [3, 2]},
              "encoding": {
                "x": {"field": "d", "type": "temporal", "scale": {"domain": [{"year":2012,"month":8,"date":24},{"year":2030,"month":5,"date":3}], "nice": false}},
                "y": {"field": "s", "type": "quantitative", "scale": {"domain": [0, 100], "zero": false, "nice": false}, "axis": null}
              }
            },
            {
              "data": {"name": "bars"},
              "mark": {"type": "line", "color": "#0A0ACD", "strokeWidth": 2.5},
              "encoding": {
                "x": {"field": "d", "type": "temporal", "scale": {"domain": [{"year":2012,"month":8,"date":24},{"year":2030,"month":5,"date":3}], "nice": false}},
                "y": {"field": "r", "type": "quantitative", "scale": {"domain": [0, 100], "zero": false, "nice": false}, "axis": null}
              }
            },
            {
              "data": {"name": "bars"},
              "mark": {"type": "rule", "color": "#FF0000", "strokeWidth": 1},
              "encoding": {
                "x": {"datum": {"year":2022,"month":11,"date":3}, "type": "temporal", "scale": {"domain": [{"year":2012,"month":8,"date":24},{"year":2030,"month":5,"date":3}], "nice": false}}
              }
            },
            {
              "data": {"name": "itx"},
              "mark": {"type": "text", "color": "#000000", "fontSize": 8.5, "align": "left", "baseline": "middle"},
              "encoding": {
                "x": {"datum": {"year":2030,"month":5,"date":30}, "type": "temporal", "scale": {"domain": [{"year":2012,"month":8,"date":24},{"year":2030,"month":5,"date":3}], "nice": false}},
                "y": {"field": "v", "type": "quantitative", "scale": {"domain": [0, 100], "zero": false, "nice": false}, "axis": null},
                "text": {"field": "t"}
              }
            },
            {
              "data": {"name": "ilv"},
              "mark": {"type": "tick", "orient": "horizontal", "size": 12, "thickness": 10, "color": "#6D7B8D", "opacity": 1},
              "encoding": {
                "x": {"datum": {"year":2030,"month":7,"date":3}, "type": "temporal", "scale": {"domain": [{"year":2012,"month":8,"date":24},{"year":2030,"month":5,"date":3}], "nice": false}},
                "y": {"field": "v", "type": "quantitative", "scale": {"domain": [0, 100], "zero": false, "nice": false}, "axis": null}
              }
            },
            {
              "data": {"name": "ilv"},
              "mark": {"type": "text", "color": "#ffffff", "fontSize": 9, "align": "center", "baseline": "middle"},
              "encoding": {
                "x": {"datum": {"year":2030,"month":7,"date":3}, "type": "temporal", "scale": {"domain": [{"year":2012,"month":8,"date":24},{"year":2030,"month":5,"date":3}], "nice": false}},
                "y": {"field": "v", "type": "quantitative", "scale": {"domain": [0, 100], "zero": false, "nice": false}, "axis": null},
                "text": {"field": "v"}
              }
            },
            {
              "data": {"values": [{"t": "OsMA(12,26,9) 0.0055371  Stoch(5,3,3) 72.4803 68.0857  RSI(14) 43.1210"}]},
              "mark": {"type": "text", "color": "#000000", "fontSize": 9, "align": "left", "baseline": "middle"},
              "encoding": {
                "x": {"datum": {"year":2012,"month":10,"date":1}, "type": "temporal", "scale": {"domain": [{"year":2012,"month":8,"date":24},{"year":2030,"month":5,"date":3}], "nice": false}},
                "y": {"datum": 85.5, "type": "quantitative", "scale": {"domain": [0, 100], "zero": false, "nice": false}, "axis": null},
                "text": {"field": "t"}
              }
            },
            {
              "data": {"values": [{"t": "2022.11.03 00:00"}]},
              "mark": {"type": "tick", "orient": "horizontal", "size": 80, "thickness": 12, "color": "#FF0000", "opacity": 1},
              "encoding": {
                "x": {"datum": {"year":2022,"month":11,"date":3}, "type": "temporal", "scale": {"domain": [{"year":2012,"month":8,"date":24},{"year":2030,"month":5,"date":3}], "nice": false}},
                "y": {"datum": -17.7, "type": "quantitative", "scale": {"domain": [0, 100], "zero": false, "nice": false}, "axis": null}
              }
            },
            {
              "data": {"values": [{"t": "2022.11.03 00:00"}]},
              "mark": {"type": "text", "color": "#ffffff", "fontSize": 9, "align": "center", "baseline": "middle"},
              "encoding": {
                "x": {"datum": {"year":2022,"month":11,"date":3}, "type": "temporal", "scale": {"domain": [{"year":2012,"month":8,"date":24},{"year":2030,"month":5,"date":3}], "nice": false}},
                "y": {"datum": -17.7, "type": "quantitative", "scale": {"domain": [0, 100], "zero": false, "nice": false}, "axis": null},
                "text": {"field": "t"}
              }
            },
            {
              "data": {"values": [{"a": 1}]},
              "mark": {"type": "rect", "color": "#6A6A6A", "opacity": 0.62},
              "encoding": {
                "x": {"datum": {"year":2012,"month":8,"date":24}, "type": "temporal", "scale": {"domain": [{"year":2012,"month":8,"date":24},{"year":2030,"month":5,"date":3}], "nice": false}},
                "x2": {"datum": {"year":2016,"month":5,"date":25}},
                "y": {"datum": 41.9, "type": "quantitative", "scale": {"domain": [0, 100], "zero": false, "nice": false}, "axis": null},
                "y2": {"datum": -32.3}
              }
            },
            {
              "data": {"values": [{"t": "⚙"}]},
              "mark": {"type": "text", "color": "#F4F4F4", "fontSize": 40, "font": "DejaVu Sans", "align": "center", "baseline": "middle"},
              "encoding": {
                "x": {"datum": {"year":2013,"month":3,"date":2}, "type": "temporal", "scale": {"domain": [{"year":2012,"month":8,"date":24},{"year":2030,"month":5,"date":3}], "nice": false}},
                "y": {"datum": 3.2, "type": "quantitative", "scale": {"domain": [0, 100], "zero": false, "nice": false}, "axis": null},
                "text": {"field": "t"}
              }
            },
            {
              "data": {"values": [{"t": "instaforex"}]},
              "mark": {"type": "text", "color": "#F4F4F4", "fontSize": 29, "align": "left", "baseline": "alphabetic"},
              "encoding": {
                "x": {"datum": {"year":2013,"month":8,"date":24}, "type": "temporal", "scale": {"domain": [{"year":2012,"month":8,"date":24},{"year":2030,"month":5,"date":3}], "nice": false}},
                "y": {"datum": -9.2, "type": "quantitative", "scale": {"domain": [0, 100], "zero": false, "nice": false}, "axis": null},
                "text": {"field": "t"}
              }
            },
            {
              "data": {"values": [{"t": "Instant Forex Trading"}]},
              "mark": {"type": "text", "color": "#F4F4F4", "fontSize": 10.5, "align": "left", "baseline": "alphabetic"},
              "encoding": {
                "x": {"datum": {"year":2013,"month":8,"date":24}, "type": "temporal", "scale": {"domain": [{"year":2012,"month":8,"date":24},{"year":2030,"month":5,"date":3}], "nice": false}},
                "y": {"datum": -24.2, "type": "quantitative", "scale": {"domain": [0, 100], "zero": false, "nice": false}, "axis": null},
                "text": {"field": "t"}
              }
            }
          ]
        }
      ],
      "resolve": {"scale": {"y": "independent"}}
    }
  ]
}
